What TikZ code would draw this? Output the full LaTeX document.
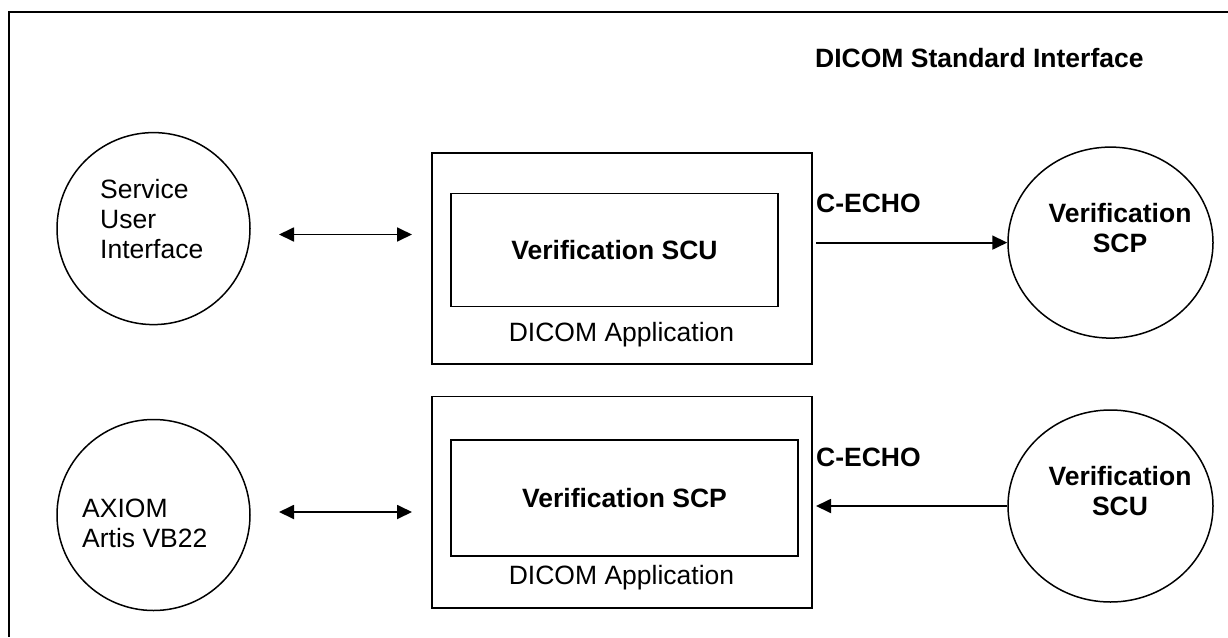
\documentclass[tikz,border=0pt]{standalone}
\usepackage{fontspec}
\setmainfont{Liberation Sans}
\usetikzlibrary{shapes.geometric,arrows.meta}
\begin{document}
\begin{tikzpicture}[x=1pt,y=-1pt,
  every node/.style={font=\fontsize{26.5}{30}\selectfont, inner sep=0pt},
  ln/.style={line width=1.8pt},
  circ/.style={line width=1.5pt, draw, ellipse},
  box/.style={ln, draw, rectangle},
  lbl/.style={font=\fontsize{26.5}{30}\selectfont\bfseries},
  arr/.style={ln, -{Triangle[length=15pt,width=14pt]}},
  darr/.style={ln, {Triangle[length=15pt,width=14pt]}-{Triangle[length=15pt,width=14pt]}}]
\useasboundingbox (0,0) rectangle (1228,637);
% frame (right and bottom edges lie outside the picture)
\draw[ln] (1228,12) -- (9,12) -- (9,637);

% left circles
\node[circ, minimum width=193pt, minimum height=192pt] (e1) at (153.5,228.6) {};
\node[anchor=west, align=left] (t1) at (100,218.8) {Service\\User\\Interface};
\node[circ, minimum width=193pt, minimum height=191pt] (e2) at (153.5,515) {};
\node[anchor=west, align=left] (t2) at (82,523) {AXIOM\\Artis VB22};

% application boxes
\node[box, minimum width=380pt, minimum height=211pt] (b1) at (622,258.4) {};
\node[box, minimum width=327pt, minimum height=113pt, lbl] (i1) at (614.5,249.9) {Verification SCU};
\node[anchor=base] (a1) at (621.5,341.3) {DICOM Application};
\node[box, minimum width=380pt, minimum height=211.5pt] (b2) at (622,502.2) {};
\node[box, minimum width=347pt, minimum height=115.7pt, lbl] (i2) at (624.5,497.9) {Verification SCP};
\node[anchor=base] (a2) at (621.5,584.3) {DICOM Application};

% right circles
\node[circ, minimum width=205pt, minimum height=191pt] (e3) at (1110.5,242.6) {};
\node[lbl, align=center] (t3) at (1120,228) {Verification\\SCP};
\node[circ, minimum width=205pt, minimum height=192pt] (e4) at (1110.5,506) {};
\node[lbl, align=center] (t4) at (1120,491) {Verification\\SCU};

% labels
\node[lbl, anchor=base west] (std) at (815,67.7) {DICOM Standard Interface};
\node[lbl, anchor=base west] (ce1) at (816,212.3) {C-ECHO};
\node[lbl, anchor=base west] (ce2) at (816,466.3) {C-ECHO};

% connectors
\coordinate (l1) at (279,234.5);
\coordinate (r1) at (412,234.5);
\coordinate (l2) at (279,512);
\coordinate (r2) at (412,512);
\coordinate (s1) at (816,242.6);
\coordinate (s2) at (816,506);
\draw[darr] (l1) -- (r1);
\draw[darr] (l2) -- (r2);
\draw[arr] (s1) -- (e3.west);
\draw[arr] (e4.west) -- (s2);
\end{tikzpicture}
\end{document}
